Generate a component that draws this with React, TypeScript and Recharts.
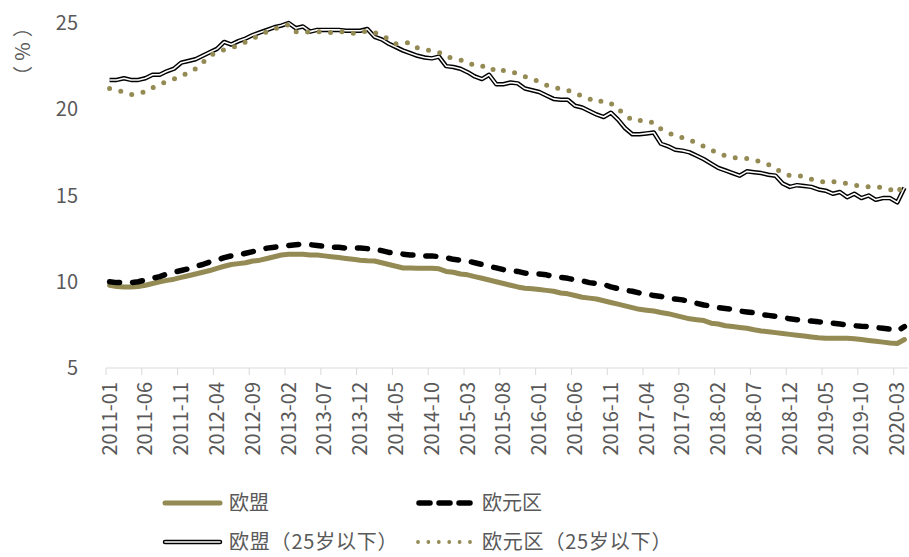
import React from 'react';
import { LineChart, Line, XAxis, YAxis } from 'recharts';

const months: string[] = [];
for (let y = 2011; y <= 2020; y++) {
  for (let m = 1; m <= 12; m++) {
    if (y === 2020 && m > 4) break;
    months.push(`${y}-${String(m).padStart(2, '0')}`);
  }
}

// 欧盟
const eu = [
  9.8, 9.72, 9.7, 9.7, 9.72, 9.8, 9.9, 10.0, 10.08, 10.15,
  10.25, 10.35, 10.45, 10.55, 10.65, 10.78, 10.9, 11.0, 11.05, 11.1,
  11.2, 11.25, 11.35, 11.45, 11.55, 11.6, 11.6, 11.6, 11.55, 11.55,
  11.5, 11.45, 11.4, 11.35, 11.3, 11.25, 11.22, 11.2, 11.1, 11.0,
  10.9, 10.8, 10.8, 10.78, 10.78, 10.78, 10.75, 10.6, 10.55, 10.45,
  10.4, 10.3, 10.2, 10.1, 10.0, 9.9, 9.8, 9.7, 9.62, 9.6,
  9.55, 9.5, 9.45, 9.35, 9.3, 9.2, 9.1, 9.05, 9.0, 8.9,
  8.8, 8.7, 8.6, 8.5, 8.4, 8.35, 8.3, 8.22, 8.15, 8.05,
  7.95, 7.85, 7.8, 7.75, 7.6, 7.55, 7.45, 7.4, 7.35, 7.3,
  7.22, 7.15, 7.1, 7.05, 7.0, 6.95, 6.9, 6.85, 6.8, 6.75,
  6.72, 6.72, 6.72, 6.72, 6.7, 6.65, 6.6, 6.55, 6.5, 6.45,
  6.42, 6.65
];

// 欧元区
const euroArea = [
  10.0, 9.95, 9.95, 9.95, 10.0, 10.1, 10.2, 10.3, 10.45, 10.55,
  10.65, 10.75, 10.9, 11.0, 11.15, 11.25, 11.4, 11.5, 11.55, 11.65,
  11.75, 11.85, 11.95, 12.0, 12.05, 12.1, 12.15, 12.18, 12.15, 12.1,
  12.05, 12.0, 12.0, 11.95, 11.95, 11.95, 11.92, 11.9, 11.8, 11.7,
  11.65, 11.6, 11.55, 11.55, 11.5, 11.5, 11.45, 11.4, 11.3, 11.25,
  11.2, 11.1, 11.0, 10.9, 10.8, 10.7, 10.65, 10.6, 10.5, 10.45,
  10.45, 10.4, 10.3, 10.25, 10.2, 10.1, 10.05, 9.95, 9.9, 9.85,
  9.7, 9.6, 9.5, 9.45, 9.35, 9.3, 9.2, 9.15, 9.05, 9.0,
  8.95, 8.85, 8.75, 8.65, 8.6, 8.5, 8.45, 8.4, 8.3, 8.25,
  8.2, 8.1, 8.05, 8.0, 7.95, 7.85, 7.8, 7.75, 7.72, 7.68,
  7.65, 7.6, 7.55, 7.5, 7.45, 7.42, 7.4, 7.35, 7.3, 7.25,
  7.15, 7.4
];

// 欧盟（25岁以下）
const euYouth = [
  21.7, 21.7, 21.8, 21.7, 21.7, 21.8, 22.0, 22.0, 22.2, 22.35,
  22.7, 22.8, 22.9, 23.1, 23.3, 23.5, 23.9, 23.75, 23.95, 24.1,
  24.3, 24.45, 24.6, 24.75, 24.85, 25.0, 24.7, 24.8, 24.5, 24.6,
  24.6, 24.6, 24.6, 24.55, 24.55, 24.55, 24.65, 24.2, 24.05, 23.8,
  23.6, 23.4, 23.25, 23.1, 23.0, 22.95, 23.05, 22.5, 22.45, 22.35,
  22.15, 21.9, 21.75, 22.0, 21.45, 21.45, 21.55, 21.5, 21.2, 21.1,
  21.0, 20.8, 20.6, 20.55, 20.55, 20.2, 20.1, 19.9, 19.7, 19.55,
  19.8, 19.4, 18.9, 18.55, 18.55, 18.6, 18.65, 18.0, 17.85, 17.65,
  17.6, 17.5, 17.3, 17.1, 16.85, 16.6, 16.45, 16.3, 16.15, 16.4,
  16.35, 16.3, 16.2, 16.15, 15.7, 15.5, 15.6, 15.55, 15.5, 15.35,
  15.28, 15.1, 15.2, 14.9, 15.1, 14.85, 15.0, 14.75, 14.85, 14.85,
  14.6, 15.45
];

// 欧元区（25岁以下）
const euroYouth = [
  21.2, 21.1, 21.0, 20.85, 20.95, 21.0, 21.25, 21.45, 21.6, 21.75,
  21.95, 22.1, 22.35, 22.7, 23.1, 23.3, 23.45, 23.55, 23.7, 23.9,
  24.1, 24.3, 24.5, 24.65, 24.8, 24.9, 24.5, 24.45, 24.5, 24.5,
  24.45, 24.45, 24.5, 24.5, 24.4, 24.45, 24.55, 24.45, 24.3, 24.05,
  23.8, 23.85, 23.85, 23.55, 23.45, 23.4, 23.3, 23.05, 22.95, 22.85,
  22.75, 22.5, 22.5, 22.5, 22.15, 22.25, 22.2, 22.05, 21.9, 21.75,
  21.6, 21.4, 21.25, 21.2, 21.1, 20.95, 20.75, 20.6, 20.4, 20.5,
  20.35, 20.0, 19.7, 19.35, 19.35, 19.35, 19.2, 18.85, 18.65, 18.45,
  18.35, 18.25, 18.0, 17.85, 17.65, 17.45, 17.3, 17.2, 17.15, 17.15,
  17.05, 16.95, 16.8, 16.55, 16.3, 16.15, 16.15, 16.1, 15.95, 15.85,
  15.75, 15.8, 15.75, 15.7, 15.6, 15.55, 15.5, 15.5, 15.45, 15.35,
  15.15, 15.75
];

const yTicks = [5, 10, 15, 20, 25];

const data = months.map((month, i) => ({
  month,
  eu: eu[i],
  euroArea: euroArea[i],
  euYouth: euYouth[i],
  euroYouth: euroYouth[i]
}));

const W = 909;
const H = 557;
const LEFT = 106;
const RIGHT = 1;
const BAND = (W - LEFT - RIGHT) / months.length;
const OLIVE = '#948A54';
const TEXT = '#595959';
const FONT = '"Noto Sans CJK SC", "Noto Sans", sans-serif';

const XTick = ({ x, y, payload }: any) => {
  const tx = x - BAND / 2;
  return <g>
      <line x1={tx} y1={y} x2={tx} y2={y + 7} stroke="#D9D9D9" strokeWidth={1} />
      <text transform={`translate(${x + 7},${y + 14}) rotate(-90)`} textAnchor="end" fill={TEXT} fontSize={20} fontFamily={FONT}>
        {payload.value}
      </text>
    </g>;
};

const YTick = ({ y, payload }: any) => <text x={78} y={y + 7} textAnchor="end" fill={TEXT} fontSize={20} fontFamily={FONT}>
    {payload.value}
  </text>;

const Overlay = () => <svg width={W} height={H} style={{
  position: 'absolute',
  left: 0,
  top: 0,
  pointerEvents: 'none'
}}>
    <text transform="translate(30,49) rotate(-90)" textAnchor="middle" fill={TEXT} fontSize={20} letterSpacing={5} fontFamily={FONT}>（%）</text>
    <g fontFamily={FONT} fontSize={20} fill={TEXT}>
      <line x1={165} y1={503} x2={220} y2={503} stroke={OLIVE} strokeWidth={5} strokeLinecap="round" />
      <text x={229} y={510}>欧盟</text>
      <line x1={419} y1={503} x2={470} y2={503} stroke="#000" strokeWidth={5.5} strokeDasharray="11 9" strokeLinecap="round" />
      <text x={482} y={510}>欧元区</text>
      <line x1={165} y1={542} x2={220} y2={542} stroke="#000" strokeWidth={4.5} strokeLinecap="round" />
      <line x1={165} y1={542} x2={220} y2={542} stroke="#fff" strokeWidth={1.6} strokeLinecap="round" />
      <text x={229} y={549} letterSpacing={0.8}>欧盟（25岁以下）</text>
      <line x1={418} y1={542} x2={471} y2={542} stroke={OLIVE} strokeWidth={3.8} strokeDasharray="0 10.4" strokeLinecap="round" />
      <text x={482} y={549} letterSpacing={0.8}>欧元区（25岁以下）</text>
    </g>
  </svg>;

export default function App() {
  return <div style={{
    position: 'absolute',
    left: 0,
    top: 0,
    width: W,
    height: H,
    background: '#fff'
  }}>
      <LineChart width={W} height={H} data={data} margin={{
      top: 23,
      right: RIGHT,
      left: 0,
      bottom: 0
    }}>
        <XAxis dataKey="month" scale="band" height={H - 368} interval={4} tickLine={false} tickSize={0} tickMargin={0} stroke="#D9D9D9" tick={<XTick />} />
        <YAxis domain={[5, 25]} ticks={yTicks} width={LEFT} axisLine={false} tickLine={false} tick={<YTick />} />
        <Line type="linear" dataKey="eu" stroke={OLIVE} strokeWidth={5} strokeLinecap="round" strokeLinejoin="round" dot={false} isAnimationActive={false} />
        <Line type="linear" dataKey="euroArea" stroke="#000" strokeWidth={5.5} strokeDasharray="10 13" strokeLinecap="round" strokeLinejoin="round" dot={false} isAnimationActive={false} />
        <Line type="linear" dataKey="euYouth" stroke="#000" strokeWidth={4.5} strokeLinejoin="round" dot={false} isAnimationActive={false} />
        <Line type="linear" dataKey="euYouth" stroke="#fff" strokeWidth={1.6} strokeLinejoin="round" dot={false} isAnimationActive={false} />
        <Line type="linear" dataKey="euroYouth" stroke={OLIVE} strokeWidth={5} strokeDasharray="0 11.5" strokeLinecap="round" dot={false} isAnimationActive={false} />
      </LineChart>
      <Overlay />
    </div>;
}
